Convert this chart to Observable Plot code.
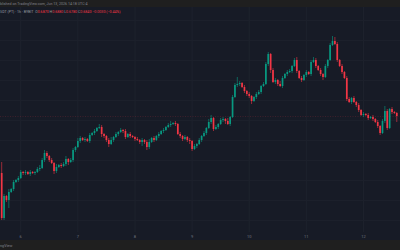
<!DOCTYPE html>
<html>
<head>
<meta charset="utf-8">
<script src="https://cdn.jsdelivr.net/npm/d3@7"></script>
<script src="https://cdn.jsdelivr.net/npm/@observablehq/plot@0.6"></script>
<style>
  html, body { margin: 0; padding: 0; background: #171b26; }
  #wrap { position: relative; width: 400px; height: 250px; overflow: hidden; font-family: Roboto, "Liberation Sans", sans-serif; }
  #topbar { height: 7px; background: #1f1f1f; position: relative; }
  #botbar { height: 10px; background: #1f1f1f; position: relative; }
  .t1 { position: absolute; white-space: nowrap; font-size: 3.6px; color: #80838c; }
  #chart svg { display: block; }
</style>
</head>
<body>
<div id="wrap">
  <div id="topbar"><div class="t1" id="pub" style="left:0px; top:1.5px;"></div></div>
  <div id="chart"></div>
  <div id="botbar"><div class="t1" id="brand" style="left:0px; top:3px; font-size:3.8px;"></div></div>
  <div class="t1" id="legend" style="left:0px; top:10.3px;"></div>
</div>
<script>
// ---- data (prices in thousandths) ----
const publishedText = "blished on TradingView.com, Jun 13, 2026 14:18 UTC-4";
const symbolText = "SDT (PT) · 1h · BYBIT";
const brandText = "ngView";
const firstOpenMilli = 627;
const closeMilli = [
  582,604,600,608,611,618,620,622,628,627,
  628,626,628,627,628,631,632,640,647,644,
  640,637,629,633,635,634,636,641,638,640,
  650,653,659,662,660,661,659,665,667,669,
  672,673,666,664,660,656,660,663,666,668,
  670,669,663,666,664,663,661,660,658,660,
  658,653,658,662,660,664,666,669,670,673,
  675,676,677,676,666,664,661,663,660,659,
  651,654,656,660,664,667,672,678,682,671,
  673,676,680,681,679,676,683,703,715,716,
  717,713,709,706,704,699,703,706,708,714,
  716,736,746,730,718,720,716,714,722,726,
  728,729,734,740,729,722,720,725,728,726,
  738,740,734,730,726,723,734,740,755,759,
  756,740,734,728,722,701,698,702,698,695,
  690,685,686,685,682,683,681,678,674,667,
  679,689,672,691,688,687,684
];
const wickUpMilli = [
  11,2,1,3,1,2,1,2,2,1,
  2,1,2,1,1,2,3,2,3,2,
  1,2,1,3,1,2,2,3,1,2,
  2,1,3,2,1,2,1,2,1,2,
  1,3,2,1,1,2,3,1,2,1,
  2,1,2,1,2,1,1,2,1,2,
  1,2,3,1,2,1,2,1,2,1,
  2,3,1,2,1,2,1,2,1,2,
  1,2,1,2,1,2,1,3,3,1,
  2,1,2,2,1,3,1,2,2,7,
  2,1,2,1,2,1,1,2,2,1,
  2,2,2,1,2,2,1,3,2,1,
  2,2,1,2,3,1,2,1,2,1,
  2,3,2,1,2,1,2,1,2,5,
  4,2,1,2,1,2,2,1,2,1,
  2,1,2,1,2,1,2,1,2,1,
  2,5,2,1,2,1,1
];
const wickDnMilli = [
  2,2,2,8,1,2,1,2,1,2,
  2,1,2,1,2,1,2,1,2,2,
  2,1,3,2,1,2,1,2,3,1,
  2,2,1,2,1,2,1,2,1,2,
  1,1,3,2,2,3,1,2,1,2,
  1,2,2,1,2,1,2,1,2,4,
  2,3,2,1,2,1,2,1,2,1,
  1,2,1,2,1,2,2,1,2,3,
  2,1,2,1,2,1,2,1,2,2,
  1,2,1,2,3,1,2,1,1,2,
  2,1,2,2,2,3,1,2,1,2,
  1,1,2,3,1,2,2,1,2,1,
  2,1,2,1,2,1,2,1,2,1,
  2,1,2,1,2,3,1,2,1,1,
  1,2,1,2,1,2,1,2,1,2,
  2,1,2,1,2,1,2,1,2,2,
  1,2,2,1,2,1,6
];
const firstCandleTime = Date.UTC(2026, 5, 5, 16, 0);
const tickDays = [6, 7, 8, 9, 10, 11, 12];
const xDomain = [new Date(Date.UTC(2026, 5, 5, 15, 30)), new Date(Date.UTC(2026, 5, 12, 15, 34))];
const yDomain = [0.568, 0.793];
const gridPrices = [0.58, 0.60, 0.62, 0.64, 0.66, 0.68, 0.70, 0.72, 0.74, 0.76, 0.78];

// ---- build table ----
const candles = closeMilli.map((c, i) => {
  const o = i === 0 ? firstOpenMilli : closeMilli[i - 1];
  const up = wickUpMilli[i] ?? 1, dn = wickDnMilli[i] ?? 1;
  return {
    date: new Date(firstCandleTime + i * 3600000),
    open: o / 1000,
    close: c / 1000,
    high: (Math.max(o, c) + up) / 1000,
    low: (Math.min(o, c) - dn) / 1000,
    dir: c >= o ? "up" : "down"
  };
});
const last = candles[candles.length - 1];
const lastPrice = last.close;

const UP = "#089981", DOWN = "#f23645", GRID = "#1c202b";
const col = d => d.dir === "up" ? UP : DOWN;

const chart = Plot.plot({
  width: 400,
  height: 233,
  marginTop: 0,
  marginBottom: 8,
  marginLeft: 0,
  marginRight: 0,
  style: { background: "#171b26", color: "#6f7380", fontSize: "4px", fontFamily: "Roboto, sans-serif" },
  x: { type: "utc", domain: xDomain },
  y: { domain: yDomain, axis: null },
  marks: [
    Plot.gridX(tickDays.map(d => new Date(Date.UTC(2026, 5, d))), { stroke: "#1e222d", strokeOpacity: 1, strokeWidth: 1 }),
    Plot.gridY(gridPrices, { stroke: GRID, strokeOpacity: 1, strokeWidth: 1 }),
    Plot.ruleY([lastPrice], { stroke: DOWN, strokeOpacity: 0.22, strokeDasharray: "1 1.5", strokeWidth: 0.8 }),
    Plot.ruleX(candles, { x: "date", y1: "low", y2: "high", stroke: col, strokeWidth: 0.6 }),
    Plot.ruleX(candles, { x: "date", y1: "open", y2: "close", stroke: col, strokeWidth: 1.7 }),
    Plot.axisX({
      ticks: tickDays.map(d => new Date(Date.UTC(2026, 5, d))),
      tickFormat: d => String(d.getUTCDate()),
      tickSize: 0,
      tickPadding: 2.5,
      fill: "#6f7380"
    })
  ]
});
document.getElementById("chart").appendChild(chart);

// ---- header texts ----
document.getElementById("pub").textContent = publishedText;
document.getElementById("brand").textContent = brandText;
const fmt = v => v.toFixed(4);
const chg = last.close - last.open;
const sign = chg < 0 ? "−" : "+";
const lc = last.dir === "up" ? UP : DOWN;
document.getElementById("legend").innerHTML =
  `<span style="color:#9598a1">${symbolText}</span>&nbsp;&nbsp;` +
  `<span style="color:#9598a1">O</span><span style="color:${lc}">${fmt(last.open)}</span> ` +
  `<span style="color:#9598a1">H</span><span style="color:${lc}">${fmt(last.high)}</span> ` +
  `<span style="color:#9598a1">L</span><span style="color:${lc}">${fmt(last.low)}</span> ` +
  `<span style="color:#9598a1">C</span><span style="color:${lc}">${fmt(last.close)}</span> ` +
  `<span style="color:${lc}">${sign}${fmt(Math.abs(chg))} (${sign}${(Math.abs(chg) / last.open * 100).toFixed(2)}%)</span>`;
</script>
</body>
</html>
